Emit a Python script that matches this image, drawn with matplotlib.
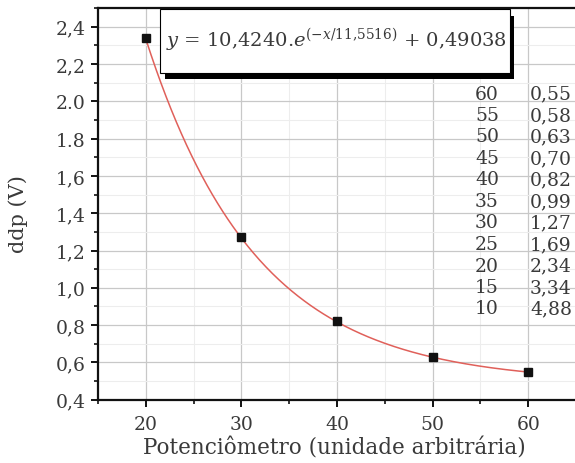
import numpy as np
import matplotlib
matplotlib.use("Agg")
import matplotlib.pyplot as plt
from matplotlib.patches import Rectangle
from matplotlib.ticker import MultipleLocator, FixedLocator, FixedFormatter

# ---- data ----
x_pts = [20, 30, 40, 50, 60]
y_pts = [2.34, 1.27, 0.82, 0.63, 0.55]

# fit parameters shown on the chart: y = A*exp(-x/t) + y0
fit_A = 10.4240
fit_t = 11.5516
fit_y0 = 0.49038

table_x = ["60", "55", "50", "45", "40", "35", "30", "25", "20", "15", "10"]
table_y = ["0,55", "0,58", "0,63", "0,70", "0,82", "0,99", "1,27", "1,69", "2,34", "3,34", "4,88"]

y_ticks = [0.4, 0.6, 0.8, 1.0, 1.2, 1.4, 1.6, 1.8, 2.0, 2.2, 2.4]
y_ticklabels = ["0,4", "0,6", "0,8", "1,0", "1,2", "1,4", "1,6", "1.8", "2.0", "2,2", "2,4"]
x_ticks = [20, 30, 40, 50, 60]
x_ticklabels = ["20", "30", "40", "50", "60"]

equation = r"$y$ = 10,4240.$e^{(-x/11{,}5516)}$ + 0,49038"
x_label = "Potenciômetro (unidade arbitrária)"
y_label = "ddp (V)"

# ---- style ----
plt.rcParams["font.family"] = ["DejaVu Serif"]
plt.rcParams["mathtext.fontset"] = "dejavuserif"
txt = "#3a3a3a"
W, H = 575, 464
fig = plt.figure(figsize=(W / 100, H / 100), dpi=100)

def fx(px):
    return px / W

def fy(py):
    return 1 - py / H

ax_l, ax_r, ax_t, ax_b = 97.9, 576.1, 9.05, 400.7
ax = fig.add_axes([fx(ax_l), fy(ax_b), (ax_r - ax_l) / W, (ax_b - ax_t) / H])
ax.set_xlim(15, 65)
ax.set_ylim(0.4, 2.5)

ax.xaxis.set_major_locator(FixedLocator(x_ticks))
ax.xaxis.set_major_formatter(FixedFormatter(x_ticklabels))
ax.xaxis.set_minor_locator(MultipleLocator(5))
ax.yaxis.set_major_locator(FixedLocator(y_ticks))
ax.yaxis.set_major_formatter(FixedFormatter(y_ticklabels))
ax.yaxis.set_minor_locator(MultipleLocator(0.1))

ax.grid(which="major", color="#c8c8c8", lw=0.9, zorder=0)
ax.grid(which="minor", color="#ededed", lw=0.8, zorder=0)
ax.set_axisbelow(True)

for s in ["left", "bottom", "top"]:
    ax.spines[s].set_linewidth(1.6)
    ax.spines[s].set_color("#111111")
ax.spines["right"].set_visible(False)

ax.tick_params(axis="y", which="major", direction="out", length=5, width=1.4,
               labelsize=13.5, labelcolor=txt, color="#111111", pad=4)
ax.tick_params(axis="x", which="major", direction="out", length=5, width=1.4,
               labelsize=13.5, labelcolor=txt, color="#111111", pad=6)
ax.tick_params(which="minor", direction="out", length=3, width=1.2, color="#111111")
ax.tick_params(top=False, right=False, which="both")

# fit curve
xf = np.linspace(x_pts[0], x_pts[-1], 300)
yf = fit_A * np.exp(-xf / fit_t) + fit_y0
ax.plot(xf, yf, color="#e0605a", lw=1.1, zorder=3)
ax.plot(x_pts, y_pts, "s", color="#111111", ms=5.5, zorder=4)

fig.text(fx(334), fy(455), x_label, fontsize=15.5, color=txt,
         ha="center", va="baseline")
fig.text(fx(18), fy(214), y_label, rotation=90, fontsize=15, color=txt,
         ha="center", va="center")

# equation box with shadow
shadow = Rectangle((fx(165), fy(80)), fx(514) - fx(165), fy(17) - fy(80),
                   transform=fig.transFigure, facecolor="black", edgecolor="none", zorder=5)
box = Rectangle((fx(160), fy(74)), fx(510) - fx(160), fy(10) - fy(74),
                transform=fig.transFigure, facecolor="white", edgecolor="black",
                lw=0.8, zorder=6)
fig.add_artist(shadow)
fig.add_artist(box)
fig.text(fx(166), fy(47), equation, fontsize=14, color=txt, ha="left",
         va="baseline", zorder=7)

# value table
row0, dy = 99.5, 21.5
for i, (a, b) in enumerate(zip(table_x, table_y)):
    y = row0 + i * dy
    fig.text(fx(499), fy(y), a, fontsize=13.5, color=txt, ha="right", va="baseline", zorder=7)
    fig.text(fx(530), fy(y), b, fontsize=13.5, color=txt, ha="left", va="baseline", zorder=7)

fig.savefig("out.png", dpi=100, facecolor="white")
